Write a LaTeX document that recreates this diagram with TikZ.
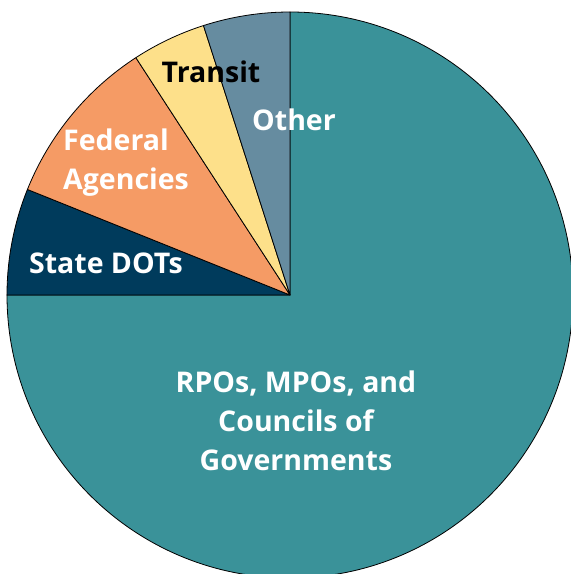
\documentclass[tikz,border=0pt]{standalone}
\usepackage{fontspec}
\setsansfont{Open Sans}
\usepackage{tikz}
\usetikzlibrary{positioning}

\definecolor{rpoTeal}{HTML}{3A9299}
\definecolor{otherSlate}{HTML}{668CA0}
\definecolor{transitYellow}{HTML}{FDE08A}
\definecolor{fedOrange}{HTML}{F59B65}
\definecolor{dotNavy}{HTML}{003B5C}

\tikzset{
  slice/.style={draw=black, line width=0.8pt, line join=round},
  label/.style={font=\sffamily\bfseries\fontsize{28.5}{39}\selectfont, text=white, inner sep=0pt}
}

\begin{document}
\begin{tikzpicture}[x=1pt, y=1pt]
            \useasboundingbox (-290,-279) rectangle (281,295);

            % === Slices, clockwise from the top ===
            \filldraw[slice, fill=rpoTeal] (0,0) -- (90:283pt) arc[start angle=90, end angle=-180, radius=283pt] -- cycle;
            \filldraw[slice, fill=dotNavy] (0,0) -- (180:283pt) arc[start angle=180, end angle=158.1, radius=283pt] -- cycle;
            \filldraw[slice, fill=fedOrange] (0,0) -- (158.1:283pt) arc[start angle=158.1, end angle=123, radius=283pt] -- cycle;
            \filldraw[slice, fill=transitYellow] (0,0) -- (123:283pt) arc[start angle=123, end angle=107.8, radius=283pt] -- cycle;
            \filldraw[slice, fill=otherSlate] (0,0) -- (107.8:283pt) arc[start angle=107.8, end angle=90, radius=283pt] -- cycle;

            % === Labels ===
            \node[label, text=black] (transit) at (-79,223) {Transit};
            \node[label] (other) at (4,175) {Other};
            \node[label, anchor=west, align=left] (federal) at (-227,132) {Federal\\Agencies};
            \node[label] (statedots) at (-184,32) {State DOTs};
            \node[label, align=center] (rpo) at (6,-126) {RPOs, MPOs, and\\Councils of\\Governments};
        \end{tikzpicture}
\end{document}
